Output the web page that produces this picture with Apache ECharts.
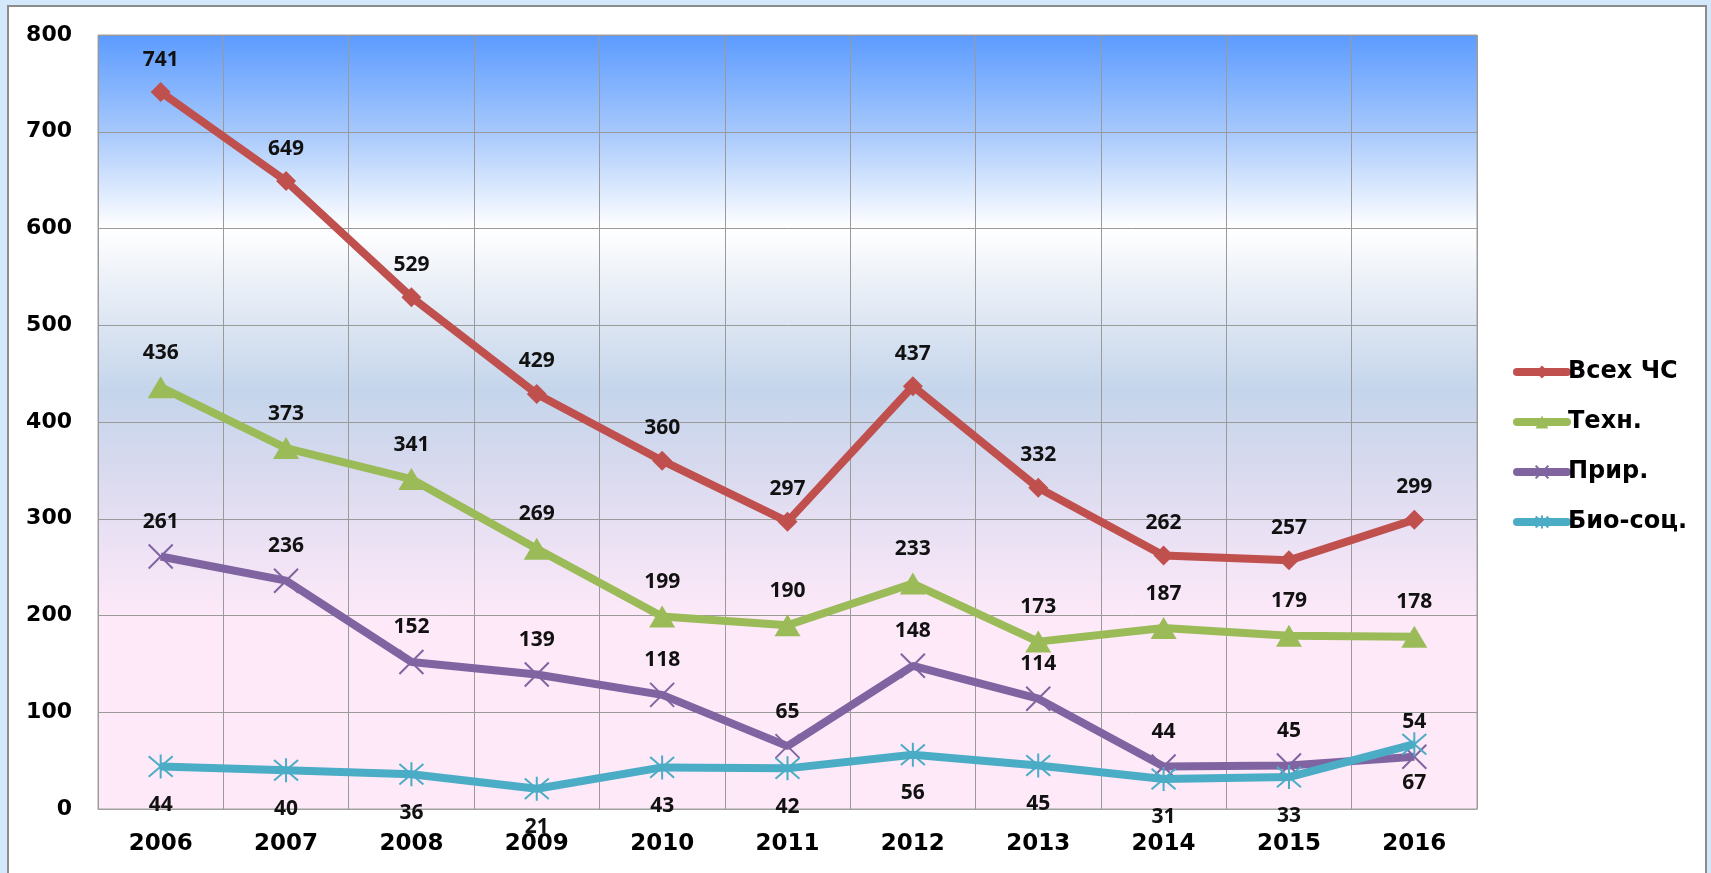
<!DOCTYPE html>
<html>
<head>
<meta charset="utf-8">
<script src="https://cdn.jsdelivr.net/npm/echarts@6/dist/echarts.min.js"></script>
<style>
html,body{margin:0;padding:0;width:1711px;height:873px;overflow:hidden;background:#d3e8fb;}
#c{width:1711px;height:873px;}
</style>
</head>
<body>
<div id="c"></div>
<script>
const years = ['2006','2007','2008','2009','2010','2011','2012','2013','2014','2015','2016'];
const vsehCS = [741,649,529,429,360,297,437,332,262,257,299];
const tehn = [436,373,341,269,199,190,233,173,187,179,178];
const prir = [261,236,152,139,118,65,148,114,44,45,54];
const bioSoc = [44,40,36,21,43,42,56,45,31,33,67];
const seriesNames = ['Всех ЧС','Техн.','Прир.','Био-соц.'];
const yTicks = {min:0, max:800, interval:100};

const chart = echarts.init(document.getElementById('c'));
const labelFont = {fontFamily:'Open Sans', fontWeight:'bold', fontSize:21, color:'#111'};
const xPath = 'path://M0,0 L24,24 M24,0 L0,24';
const starPath = 'path://M0,0 L24,24 M24,0 L0,24 M12,-2 L12,26';

chart.setOption({
  animation:false,
  backgroundColor:'#d3e8fb',
  graphic:[
    {type:'rect', shape:{x:8,y:6,width:1698,height:880}, style:{fill:'#ffffff', stroke:'#8c8c8c', lineWidth:2}, z:-10},
    {type:'rect', shape:{x:1705,y:8,width:2,height:880}, style:{fill:'#8c8c8c'}, z:-9}
  ],
  grid:{left:98, top:35, width:1379, height:774, show:true, borderColor:'#a0a0a0', borderWidth:1,
    backgroundColor:new echarts.graphic.LinearGradient(0,0,0,1,[
      {offset:0, color:'#5b9bff'},
      {offset:0.125, color:'#a6c8fc'},
      {offset:0.25, color:'#ffffff'},
      {offset:0.375, color:'#dce5f2'},
      {offset:0.46, color:'#c4d5eb'},
      {offset:0.55, color:'#d6d9ee'},
      {offset:0.65, color:'#ebe1f4'},
      {offset:0.75, color:'#fde9f8'},
      {offset:1, color:'#fee9f9'}
    ])},
  legend:{orient:'vertical', left:1508, top:355, itemWidth:50, itemHeight:16, itemGap:26,
    lineStyle:{width:8, cap:'round'},
    textStyle:{fontFamily:'DejaVu Sans', fontWeight:'bold', fontSize:24, color:'#000', padding:[0,0,0,-4]},
    data:seriesNames},
  xAxis:{type:'category', data:years, boundaryGap:true,
    axisLine:{lineStyle:{color:'#a0a0a0'}}, axisTick:{show:false},
    axisLabel:{fontFamily:'DejaVu Sans', fontWeight:'bold', fontSize:23, color:'#000', margin:24},
    splitLine:{show:true, lineStyle:{color:'#9a9a9a', width:1}}},
  yAxis:{type:'value', min:yTicks.min, max:yTicks.max, interval:yTicks.interval,
    axisLine:{show:false}, axisTick:{show:false},
    axisLabel:{fontFamily:'DejaVu Sans', fontWeight:'bold', fontSize:22, color:'#000', margin:26},
    splitLine:{lineStyle:{color:'#9a9a9a', width:1}}},
  series:[
    {name:seriesNames[0], type:'line', data:vsehCS, symbol:'diamond', symbolSize:20,
      lineStyle:{color:'#c0504d', width:8}, itemStyle:{color:'#c0504d'},
      label:{show:true, position:'top', distance:12, ...labelFont}, z:4},
    {name:seriesNames[1], type:'line', data:tehn, symbol:'triangle', symbolSize:[26,22],
      lineStyle:{color:'#9bbb59', width:8}, itemStyle:{color:'#9bbb59'},
      label:{show:true, position:'top', distance:13, ...labelFont}, z:3},
    {name:seriesNames[2], type:'line', data:prir, symbol:xPath, symbolSize:24,
      lineStyle:{color:'#8064a2', width:8}, itemStyle:{color:'#8064a2', borderColor:'#8064a2', borderWidth:2},
      label:{show:true, position:'top', distance:11, ...labelFont}, z:2},
    {name:seriesNames[3], type:'line', data:bioSoc, symbol:starPath, symbolSize:24,
      lineStyle:{color:'#4bacc6', width:8}, itemStyle:{color:'#4bacc6', borderColor:'#4bacc6', borderWidth:2},
      label:{show:true, position:'bottom', distance:15, ...labelFont}, z:5}
  ]
});
</script>
</body>
</html>
